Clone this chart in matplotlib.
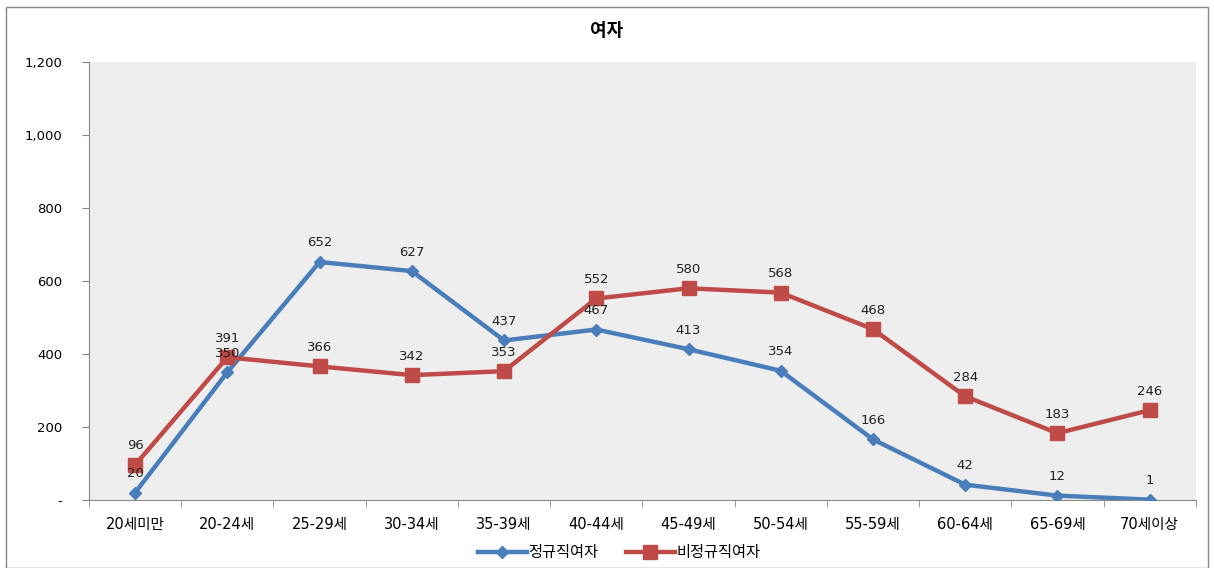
import numpy as np
import matplotlib.pyplot as plt
from matplotlib.patches import Rectangle

plt.rcParams['font.family'] = ['DejaVu Sans', 'Noto Sans CJK KR']

categories = ['20세미만', '20-24세', '25-29세', '30-34세', '35-39세', '40-44세',
              '45-49세', '50-54세', '55-59세', '60-64세', '65-69세', '70세이상']
regular = [20, 350, 652, 627, 437, 467, 413, 354, 166, 42, 12, 1]
irregular = [96, 391, 366, 342, 353, 552, 580, 568, 468, 284, 183, 246]
yticks = [0, 200, 400, 600, 800, 1000, 1200]
ytick_labels = ['-', '200', '400', '600', '800', '1,000', '1,200']

blue = '#4A7EBB'
red = '#BE4B48'

fig = plt.figure(figsize=(12.14, 5.68), dpi=100)
ax = fig.add_axes([0.0733, 0.1197, 0.9117, 0.7713])
ax.set_facecolor('#EEEEEE')

x = np.arange(len(categories))
ax.plot(x, regular, color=blue, lw=3.2, marker='D', ms=6, label='정규직여자', zorder=3)
ax.plot(x, irregular, color=red, lw=3.2, marker='s', ms=10, label='비정규직여자', zorder=3)

for xi, v in zip(x, regular):
    ax.annotate(str(v), (xi, v), xytext=(0, 9), textcoords='offset points',
                ha='center', va='bottom', fontsize=9.5, color='#222222')
for xi, v in zip(x, irregular):
    ax.annotate(str(v), (xi, v), xytext=(0, 9), textcoords='offset points',
                ha='center', va='bottom', fontsize=9.5, color='#222222')

ax.set_xlim(-0.5, len(categories) - 0.5)
ax.set_ylim(0, 1200)
ax.set_yticks(yticks)
ax.set_yticklabels(ytick_labels, fontsize=9.5)
ax.set_xticks(x)
ax.set_xticklabels(categories, fontsize=10.5)
ax.set_xticks(np.arange(-0.5, len(categories)), minor=True)
ax.tick_params(axis='x', which='major', length=0, pad=12)
ax.tick_params(axis='x', which='minor', length=5, color='#888888')
ax.tick_params(axis='y', length=5, color='#888888', pad=14)

for side in ['top', 'right']:
    ax.spines[side].set_visible(False)
ax.spines['left'].set_color('#888888')
ax.spines['bottom'].set_color('#888888')

fig.text(0.5, 0.945, '여자', ha='center', va='center', fontsize=13, fontweight='bold')

fig.legend(loc='center', bbox_to_anchor=(0.51, 0.027), ncol=2, frameon=False,
           fontsize=11, handlelength=3.2, columnspacing=1.8, handletextpad=0.1)

fig.patches.append(Rectangle((0.005, 0.0), 0.99, 0.988, transform=fig.transFigure,
                             fill=False, edgecolor='#888888', lw=1))

plt.savefig('out.png', dpi=100)
